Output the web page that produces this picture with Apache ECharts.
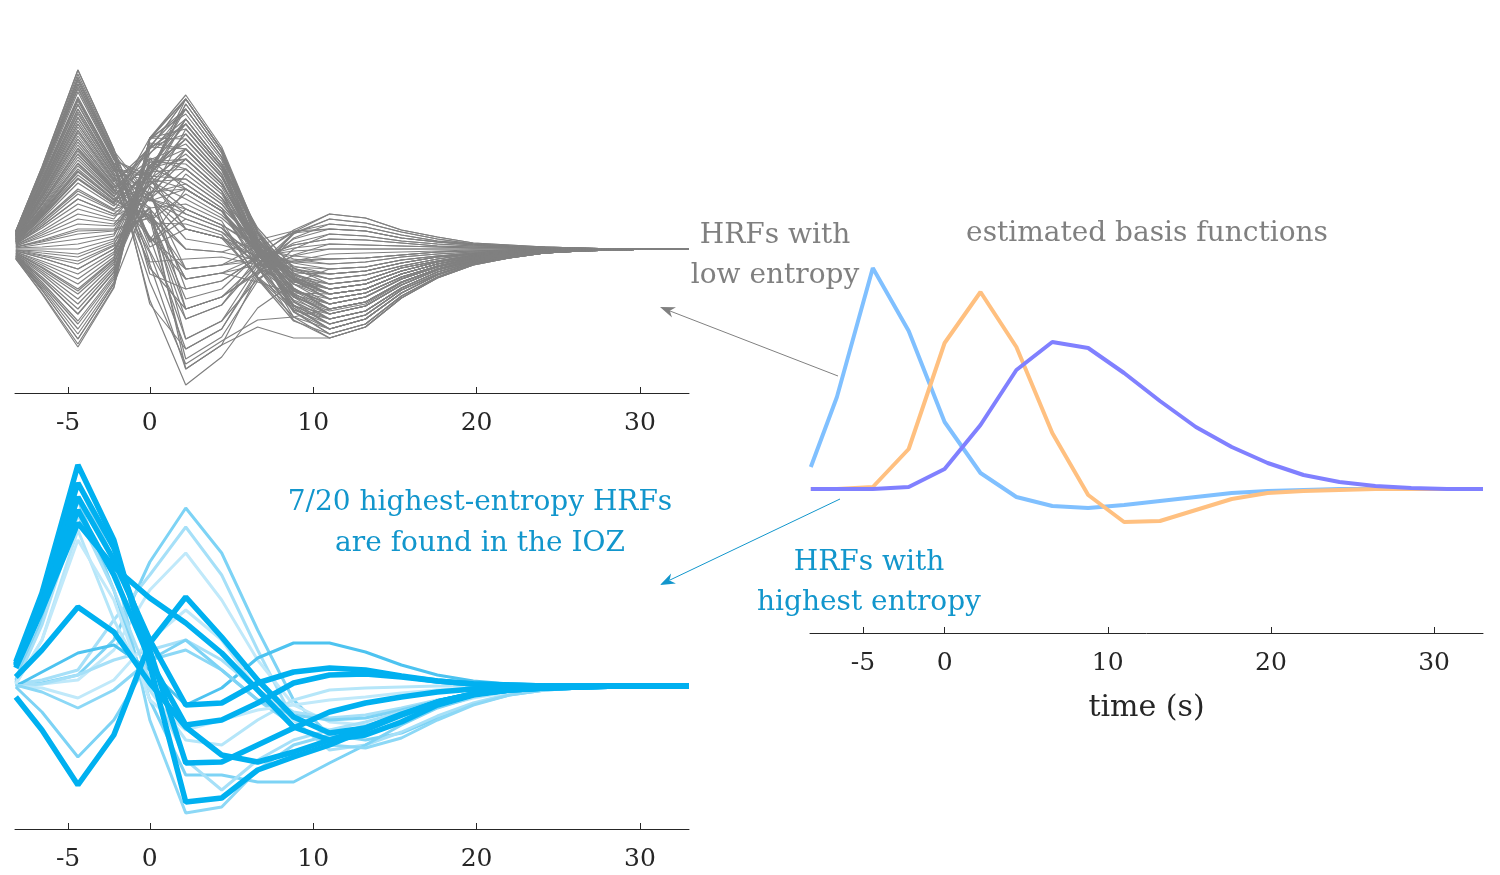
<!DOCTYPE html>
<html><head><meta charset="utf-8">
<script src="https://cdn.jsdelivr.net/npm/echarts@6/dist/echarts.min.js"></script>
<style>html,body{margin:0;padding:0;background:#fff}#c{width:1500px;height:875px}</style>
</head><body><div id="c"></div>
<script>
// time samples (s)
const times = [-8.2, -6.6, -4.4, -2.2, 0, 2.2, 4.4, 6.6, 8.8, 11, 13.2, 15.4, 17.6, 19.8, 22, 24.2, 26.4, 28.6, 30.8, 33];
const tickValues = [-5, 0, 10, 20, 30];

// HRFs with low entropy (grey, top-left)
const lowEntropyHRFs = [
[18,82,179,100,9,60,38,-18,-57,-70,-62,-39,-23,-13,-7,-4,-1,-1,0,0],
[17,78,170,95,50,100,65,2,-40,-55,-48,-30,-18,-10,-6,-3,-1,-1,0,0],
[17,76,165,93,7,40,24,-29,-68,-80,-70,-44,-26,-14,-8,-4,-2,-1,0,0],
[16,74,160,90,67,130,85,16,-28,-45,-40,-25,-15,-8,-5,-2,-1,0,0,0],
[15,70,152,86,50,80,51,-10,-51,-65,-57,-36,-21,-12,-7,-3,-1,-1,0,0],
[15,68,148,84,7,30,17,-17,-42,-50,-44,-28,-17,-9,-5,-3,-1,-1,0,0],
[14,64,140,80,75,115,75,-4,-56,-75,-66,-41,-25,-14,-8,-4,-2,-1,0,0],
[14,62,135,78,48,60,38,-3,-30,-40,-35,-22,-13,-7,-4,-2,-1,0,0,0],
[13,59,128,74,70,95,62,-2,-45,-60,-53,-33,-20,-11,-6,-3,-1,-1,0,0],
[12,56,122,71,41,45,28,-30,-72,-85,-75,-47,-28,-15,-9,-4,-2,-1,0,0],
[12,53,116,68,95,140,92,16,-31,-50,-44,-28,-17,-9,-5,-3,-1,-1,0,0],
[11,51,110,65,67,70,45,3,-25,-35,-31,-19,-12,-6,-4,-2,-1,0,0,0],
[10,48,104,62,89,105,68,-4,-53,-70,-62,-39,-23,-13,-7,-4,-1,-1,0,0],
[10,45,98,59,50,35,21,-18,-46,-55,-48,-30,-18,-10,-6,-3,-1,-1,0,0],
[9,42,92,56,101,125,82,17,-24,-40,-35,-22,-13,-7,-4,-2,-1,0,0,0],
[9,40,86,53,87,85,55,-6,-48,-62,-55,-34,-20,-11,-6,-3,-1,-1,0,0],
[8,37,80,50,68,50,31,-1,-22,-30,-26,-17,-10,-5,-3,-2,-1,0,0,0],
[7,34,74,47,111,150,99,5,-57,-80,-70,-44,-26,-14,-8,-4,-2,-1,0,0],
[7,32,70,45,102,100,65,7,-31,-45,-40,-25,-15,-8,-5,-2,-1,0,0,0],
[7,30,66,43,82,65,41,6,-17,-25,-22,-14,-8,-5,-3,-1,-1,0,0,0],
[18,82,179,100,-25,-40,-32,-9,4,10,9,6,3,2,1,1,0,0,0,0],
[17,76,165,93,-55,-100,-80,-21,15,30,26,17,10,5,3,2,1,0,0,0],
[15,69,150,85,-51,-136,-108,-59,-34,-20,-18,-11,-7,-4,-2,-1,0,0,0,0],
[14,64,140,80,12,-20,-16,-12,-11,-10,-9,-6,-3,-2,-1,-1,0,0,0,0],
[13,58,125,73,-2,-70,-56,-8,19,35,31,19,12,6,4,2,1,0,0,0],
[11,51,110,65,-15,-120,-96,-78,-89,-89,-78,-49,-29,-16,-9,-4,-2,-1,0,0],
[10,44,95,58,40,0,-3,9,18,20,18,11,7,4,2,1,0,0,0,0],
[9,39,85,53,12,-90,-72,-30,-6,5,4,3,2,1,1,0,0,0,0,0],
[7,32,70,45,34,-50,-40,-6,17,25,22,14,8,5,3,1,1,0,0,0],
[6,28,60,40,51,10,4,-6,-13,-15,-13,-8,-5,-3,-2,-1,0,0,0,0],
[-10,-45,-98,-39,111,154,102,16,-39,-60,-53,-33,-20,-11,-6,-3,-1,-1,0,0],
[-8,-37,-80,-30,111,120,79,-2,-56,-75,-66,-41,-25,-14,-8,-4,-2,-1,0,0],
[-7,-30,-65,-23,109,140,92,19,-27,-45,-40,-25,-15,-8,-5,-2,-1,0,0,0],
[-5,-23,-50,-15,87,90,58,-18,-71,-89,-78,-49,-29,-16,-9,-4,-2,-1,0,0],
[-4,-16,-35,-8,101,150,99,17,-35,-55,-48,-30,-18,-10,-6,-3,-1,-1,0,0],
[-2,-9,-20,0,73,70,45,0,-29,-40,-35,-22,-13,-7,-4,-2,-1,0,0,0],
[-1,-2,-5,8,81,110,72,-3,-52,-70,-62,-39,-23,-13,-7,-4,-1,-1,0,0],
[1,5,10,15,83,130,85,13,-32,-50,-44,-28,-17,-9,-5,-3,-1,-1,0,0],
[3,12,25,23,57,60,38,0,-26,-35,-31,-19,-12,-6,-4,-2,-1,0,0,0],
[4,18,40,30,75,145,96,11,-44,-65,-57,-36,-21,-12,-7,-3,-1,-1,0,0],
[-9,-41,-90,-35,56,-20,-16,3,16,20,18,11,7,4,2,1,0,0,0,0],
[-6,-28,-60,-20,62,-60,-48,-22,-7,0,0,0,0,0,0,0,0,0,0,0],
[-4,-18,-40,-10,70,20,11,-8,-21,-25,-22,-14,-8,-5,-3,-1,-1,0,0,0],
[-2,-7,-15,3,42,-90,-72,-17,16,30,26,17,10,5,3,2,1,0,0,0],
[0,0,0,10,37,-30,-24,-16,-13,-10,-9,-6,-3,-2,-1,-1,0,0,0,0],
[2,9,20,20,31,-110,-88,-32,0,15,13,8,5,3,2,1,0,0,0,0],
[4,16,35,28,33,0,-3,-11,-18,-20,-18,-11,-7,-4,-2,-1,0,0,0,0],
[5,23,50,35,35,-60,-48,-24,-12,-5,-4,-3,-2,-1,-1,0,0,0,0,0],
[18,81,175,98,53,120,79,6,-42,-60,-53,-33,-20,-11,-6,-3,-1,-1,0,0],
[17,77,168,94,28,75,48,2,-29,-40,-35,-22,-13,-7,-4,-2,-1,0,0,0],
[16,75,162,91,2,20,11,-28,-57,-65,-57,-36,-21,-12,-7,-3,-1,-1,0,0],
[16,72,157,89,73,145,96,1,-62,-85,-75,-47,-28,-15,-9,-4,-2,-1,0,0],
[15,69,150,85,28,55,34,0,-22,-30,-26,-17,-10,-5,-3,-2,-1,0,0,0],
[14,66,144,82,55,90,58,-1,-41,-55,-48,-30,-18,-10,-6,-3,-1,-1,0,0],
[14,63,137,79,72,130,85,21,-19,-35,-31,-19,-12,-6,-4,-2,-1,0,0,0],
[13,60,131,76,26,25,14,-29,-61,-70,-62,-39,-23,-13,-7,-4,-1,-1,0,0],
[13,58,125,73,75,110,72,10,-30,-45,-40,-25,-15,-8,-5,-2,-1,0,0,0],
[12,55,119,70,56,65,41,-19,-61,-75,-66,-41,-25,-14,-8,-4,-2,-1,0,0],
[11,52,113,67,101,150,99,15,-39,-60,-53,-33,-20,-11,-6,-3,-1,-1,0,0],
[11,49,107,64,50,40,24,1,-14,-20,-18,-11,-7,-4,-2,-1,0,0,0,0],
[10,46,101,61,81,90,58,-14,-63,-80,-70,-44,-26,-14,-8,-4,-2,-1,0,0],
[10,44,95,58,103,140,92,16,-31,-50,-44,-28,-17,-9,-5,-3,-1,-1,0,0],
[9,41,89,55,71,60,38,-5,-35,-45,-40,-25,-15,-8,-5,-2,-1,0,0,0],
[8,38,83,52,102,115,75,1,-47,-65,-57,-36,-21,-12,-7,-3,-1,-1,0,0],
[8,35,77,49,63,35,21,-11,-33,-40,-35,-22,-13,-7,-4,-2,-1,0,0,0],
[7,33,71,46,91,80,51,-5,-42,-55,-48,-30,-18,-10,-6,-3,-1,-1,0,0],
[17,79,172,96,-13,-10,-8,-16,-24,-25,-22,-14,-8,-5,-3,-1,-1,0,0,0],
[15,67,145,83,-19,-60,-48,-14,6,15,13,8,5,3,2,1,0,0,0,0],
[12,54,118,69,12,-30,-24,-33,-44,-45,-40,-25,-15,-8,-5,-2,-1,0,0,0],
[10,46,100,60,-4,-100,-80,-24,11,25,22,14,8,5,3,1,1,0,0,0],
[8,36,78,49,33,-20,-16,-7,-2,0,0,0,0,0,0,0,0,0,0,0],
[13,61,132,76,-33,-115,-92,-71,-68,-60,-53,-33,-20,-11,-6,-3,-1,-1,0,0],
[-9,-41,-90,-35,111,135,89,0,-59,-80,-70,-44,-26,-14,-8,-4,-2,-1,0,0],
[-7,-33,-72,-26,106,100,65,4,-35,-50,-44,-28,-17,-9,-5,-3,-1,-1,0,0],
[-4,-19,-42,-11,96,125,82,4,-46,-65,-57,-36,-21,-12,-7,-3,-1,-1,0,0],
[-1,-6,-12,4,77,80,51,8,-19,-30,-26,-17,-10,-5,-3,-2,-1,0,0,0],
[2,8,18,19,76,150,99,7,-53,-75,-66,-41,-25,-14,-8,-4,-2,-1,0,0],
[5,23,50,35,65,100,65,9,-26,-40,-35,-22,-13,-7,-4,-2,-1,0,0,0],
[6,27,58,39,82,125,82,-8,-68,-89,-78,-49,-29,-16,-9,-4,-2,-1,0,0],
[-3,-12,-25,-3,68,40,24,3,-10,-15,-13,-8,-5,-3,-2,-1,0,0,0,0],
[-10,-44,-95,-38,111,110,72,10,-30,-45,-40,-25,-15,-8,-5,-2,-1,0,0,0],
[-9,-39,-85,-33,110,150,99,10,-48,-70,-62,-39,-23,-13,-7,-4,-1,-1,0,0],
[-8,-35,-75,-28,90,60,38,-13,-48,-60,-53,-33,-20,-11,-6,-3,-1,-1,0,0],
[-6,-25,-55,-18,100,130,85,-2,-59,-80,-70,-44,-26,-14,-8,-4,-2,-1,0,0],
[-5,-21,-45,-13,57,-40,-32,-9,4,10,9,6,3,2,1,1,0,0,0,0],
[-3,-14,-30,-5,84,100,65,2,-40,-55,-48,-30,-18,-10,-6,-3,-1,-1,0,0],
[-1,-4,-8,6,51,20,11,-13,-30,-35,-31,-19,-12,-6,-4,-2,-1,0,0,0],
[1,2,5,13,79,140,92,-1,-63,-85,-75,-47,-28,-15,-9,-4,-2,-1,0,0],
[2,7,15,18,32,-70,-56,-15,10,20,18,11,7,4,2,1,0,0,0,0],
[3,14,30,25,64,90,58,4,-32,-45,-40,-25,-15,-8,-5,-2,-1,0,0,0],
[5,21,45,33,49,30,17,-5,-20,-25,-22,-14,-8,-5,-3,-1,-1,0,0,0],
[6,25,55,38,38,-30,-24,-8,1,5,4,3,2,1,1,0,0,0,0,0],
[-7,-30,-65,-23,75,20,11,0,-7,-10,-9,-6,-3,-2,-1,-1,0,0,0,0],
[-2,-9,-20,0,41,-120,-96,-26,17,35,31,19,12,6,4,2,1,0,0,0]
];

// 7 highest-entropy HRFs found in the IOZ (thick)
const iozHRFs = [
[24,93,221,146,21,-116,-112,-84,-71,-59,-44,-29,-16,-8,-4,-2,-1,0,0,0],
[22,88,203,138,36,-77,-76,-59,-42,-26,-17,-11,-6,-3,-1,0,0,0,0,0],
[21,83,189,126,46,-19,-17,3,14,18,16,10,5,2,1,0,0,0,0,0],
[18,76,163,119,88,63,33,-4,-41,-54,-49,-36,-19,-9,-4,-2,-1,0,0,0],
[9,36,79,54,3,-41,-69,-76,-66,-54,-42,-28,-16,-8,-4,-2,-1,0,0,0],
[-11,-44,-99,-49,43,89,49,6,-31,-47,-42,-29,-16,-8,-4,-2,-1,0,0,0],
[20,81,176,111,26,-39,-34,-17,3,11,12,9,5,2,1,0,0,0,0,0]
];

// remaining 13 highest-entropy HRFs (thin, lighter)
const otherHighHRFs = [
[0,3,11,46,124,178,133,56,-14,-49,-54,-47,-32,-18,-9,-4,-2,-1,0,0],
[2,6,16,66,111,159,111,36,-34,-64,-59,-46,-30,-17,-8,-4,-2,-1,0,0],
[0,2,6,36,96,133,86,26,-19,-36,-39,-32,-21,-12,-6,-3,-1,0,0,0],
[6,76,203,126,-34,-127,-121,-84,-59,-49,-40,-29,-17,-9,-4,-2,-1,0,0,0],
[4,66,186,96,-14,-89,-89,-96,-96,-77,-59,-39,-22,-11,-5,-2,-1,0,0,0],
[2,46,156,66,-4,-54,-59,-34,-14,-4,-2,-1,0,0,0,0,0,0,0,0],
[0,14,33,41,16,-19,-2,28,43,43,34,21,11,5,2,1,0,0,0,0],
[0,2,11,26,36,46,26,-4,-26,-32,-29,-22,-14,-8,-4,-2,-1,0,0,0],
[0,-2,-12,6,46,76,46,-4,-34,-44,-42,-32,-20,-11,-5,-2,-1,0,0,0],
[1,-6,-22,-4,26,36,16,-14,-39,-59,-62,-52,-34,-19,-9,-4,-2,-1,0,0],
[-1,-26,-71,-34,26,46,16,-14,-29,-34,-32,-24,-15,-8,-4,-2,-1,0,0,0],
[3,61,171,96,6,-74,-104,-74,-54,-44,-36,-26,-16,-9,-4,-2,-1,0,0,0],
[2,46,146,86,-14,-44,-34,-24,-19,-14,-11,-7,-4,-2,-1,0,0,0,0,0]
];
const otherHighColors = ['#7DD3F5','#A6E0F8','#C0E9FA','#8CD8F6','#7DD3F5','#B5E6F9','#4DC3F0','#A6E0F8','#C0E9FA','#8CD8F6','#7DD3F5','#A6E0F8','#C0E9FA'];

// estimated basis functions (right)
const basisEarly = [22,92,221,158,67,16,-8,-17,-19,-16,-12,-8,-4,-2,-1,0,0,0,0,0];
const basisMid   = [0,0,2,40,146,197,142,56,-6,-33,-32,-21,-10,-4,-2,-1,0,0,0,0];
const basisLate  = [0,0,0,2,20,64,119,147,141,116,88,62,42,26,14,7,3,1,0,0];

const FONT = '"DejaVu Serif", "Liberation Serif", serif';
const AX = '#262626';
const toPts = arr => times.map((t, i) => [t, arr[i]]);

function xAxisFor(idx, extra) {
  return Object.assign({
    type: 'value', gridIndex: idx, min: -8.25, max: 33,
    axisLine: { show: true, onZero: false, lineStyle: { color: AX, width: 1 } },
    axisTick: { show: true, inside: true, length: 6, customValues: tickValues, lineStyle: { color: AX } },
    axisLabel: { customValues: tickValues, fontFamily: FONT, fontSize: 25, color: AX, margin: 18 },
    splitLine: { show: false }
  }, extra || {});
}
function yAxisFor(idx, min, max) {
  return { type: 'value', gridIndex: idx, min: min, max: max, show: false, splitLine: { show: false } };
}
function lineSeries(data, ax, color, width, z) {
  return { type: 'line', xAxisIndex: ax, yAxisIndex: ax, data: toPts(data), symbol: 'none', silent: true,
    lineStyle: { color: color, width: width }, z: z, emphasis: { disabled: true } };
}

const series = [];
lowEntropyHRFs.forEach(d => series.push(lineSeries(d, 0, '#808080', 1.2, 2)));
otherHighHRFs.forEach((d, i) => series.push(lineSeries(d, 1, otherHighColors[i], 3, 2)));
iozHRFs.forEach(d => series.push(lineSeries(d, 1, '#00B0F0', 5.5, 3)));
series.push(lineSeries(basisEarly, 2, '#80C0FF', 4, 2));
series.push(lineSeries(basisMid, 2, '#FFC080', 4, 3));
series.push(lineSeries(basisLate, 2, '#8080FF', 4, 4));

function txt(x, y, text, color) {
  return { type: 'text', x: x, y: y, z: 10, style: { text: text, fill: color, font: '28px ' + FONT, align: 'center', verticalAlign: 'middle' } };
}

const GREY = '#808080', BLUE = '#1296CC';
const option = {
  animation: false,
  grid: [
    { left: 15, top: 49, width: 674, height: 344 },
    { left: 15, top: 436, width: 674, height: 393 },
    { left: 810, top: 249, width: 673, height: 384 }
  ],
  xAxis: [
    xAxisFor(0), xAxisFor(1),
    xAxisFor(2, { name: 'time (s)', nameLocation: 'middle', nameGap: 60,
      nameTextStyle: { fontFamily: FONT, fontSize: 30, color: AX } })
  ],
  yAxis: [ yAxisFor(0, -144, 200), yAxisFor(1, -143, 250), yAxisFor(2, -144, 240) ],
  series: series,
  graphic: [
    txt(775, 236, 'HRFs with', GREY),
    txt(775, 276, 'low entropy', GREY),
    txt(1147, 234, 'estimated basis functions', GREY),
    txt(480, 503, '7/20 highest-entropy HRFs', BLUE),
    txt(480, 544, 'are found in the IOZ', BLUE),
    txt(869, 563, 'HRFs with', BLUE),
    txt(869, 603, 'highest entropy', BLUE),
    { type: 'line', z: 10, shape: { x1: 838, y1: 376, x2: 670, y2: 311 }, style: { stroke: GREY, lineWidth: 1 } },
    { type: 'polygon', z: 10, shape: { points: [[660,307],[676,307.3],[669.8,310.8],[672,317.5]] }, style: { fill: GREY } },
    { type: 'line', z: 10, shape: { x1: 840, y1: 499, x2: 670, y2: 580 }, style: { stroke: BLUE, lineWidth: 1 } },
    { type: 'polygon', z: 10, shape: { points: [[660,585],[675.9,583.5],[669.5,580.5],[671.1,573.5]] }, style: { fill: BLUE } }
  ]
};
const chart = echarts.init(document.getElementById('c'), null, { renderer: 'canvas' });
chart.setOption(option);
</script></body></html>
